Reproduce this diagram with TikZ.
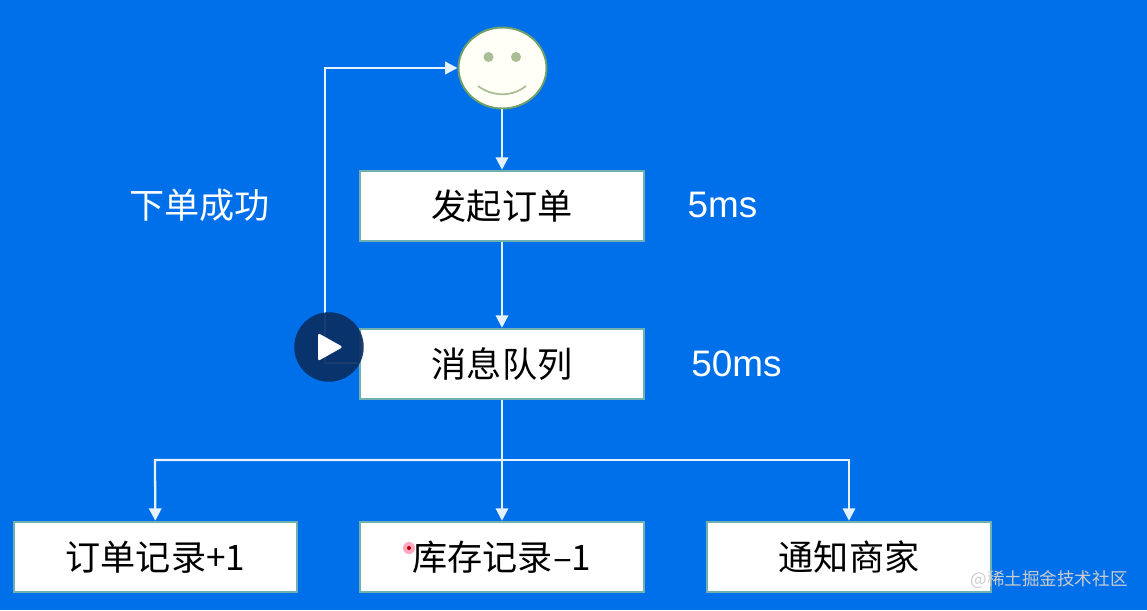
\documentclass[tikz,border=0pt]{standalone}
\usepackage{fontspec}
\setmainfont{Liberation Sans}
\newfontfamily\cjk{Noto Sans CJK SC}
\usetikzlibrary{arrows.meta,shapes.geometric}
\definecolor{slidebg}{HTML}{0070EA}
\definecolor{boxedge}{HTML}{6FB0B0}
\definecolor{faceedge}{HTML}{6FA06A}
\definecolor{facemark}{HTML}{A9BE94}
\definecolor{playbg}{HTML}{0A2F63}
\tikzset{
	taskbox/.style={draw=boxedge,line width=1.2pt,fill=white,minimum width=5.67cm,minimum height=1.41cm,inner sep=0pt,text=black,font=\cjk\fontsize{20}{24}\selectfont},
	flow/.style={draw=white!90!slidebg,line width=1.3pt},
	flowtip/.style={flow,-{Triangle[width=7pt,length=7pt]}},
	slidetext/.style={text=white,inner sep=0pt,font=\fontsize{21}{25}\selectfont}
}
\begin{document}
\begin{tikzpicture}[x=0.02cm,y=-0.02cm]
	\useasboundingbox (0,0) rectangle (1147,610);
	\fill[slidebg] (0,0) rectangle (1147,610);
	\coordinate (Turn) at (325,363);
	\coordinate (TurnTop) at (325,68);
	\coordinate (Bus) at (502,460);
	\coordinate (BusL) at (155,460);
	\coordinate (BusR) at (849,460);

	\node[ellipse,draw=faceedge,line width=1.1pt,fill=white!97!yellow,minimum width=1.76cm,minimum height=1.62cm,inner sep=0pt] (User) at (502.5,68) {};
	\fill[facemark] (488.5,57) circle (5);
	\fill[facemark] (516,57) circle (5);
	\draw[facemark,line width=1pt] (478,86) .. controls (493,97) and (512,97) .. (526,86);

	\node[taskbox] (Start) at (502,206) {发起订单};
	\node[taskbox] (Queue) at (502,364) {消息队列};
	\node[taskbox] (Record) at (155.5,557) {订单记录+1};
	\node[taskbox] (Stock) at (502,557) {库存记录–1};
	\node[taskbox] (Notify) at (849,557) {通知商家};

	\draw[flowtip] (Start.north |- User.south) -- (Start);
	\draw[flowtip] (Start) -- (Queue);
	\draw[flowtip] (Queue.west |- Turn) -- (Turn) -- (TurnTop) -- (User);
	\draw[flowtip] (Queue) -- (Stock);
	\draw[flowtip] (Bus) -- (BusL) -- (Record);
	\draw[flowtip] (Bus) -- (BusR) -- (Notify);

	\node[slidetext,font=\cjk\fontsize{20}{24}\selectfont] (Ok) at (199.5,205) {下单成功};
	\node[slidetext] (FiveMs) at (722.5,205) {5ms};
	\node[slidetext] (FiftyMs) at (736.5,364) {50ms};

	\node[circle,fill=playbg,fill opacity=.93,minimum size=1.39cm,inner sep=0pt] (Play) at (329,347) {};
	\fill[white,rounded corners=1pt] (318,333) -- (343,347) -- (318,361) -- cycle;
	\fill[red!70!magenta,opacity=.35] (409,548) circle (6);
	\fill[red!70!black] (409,548) circle (2);
	\node[text=white!80!black,inner sep=0pt,anchor=east,font=\cjk\fontsize{10}{12}\selectfont] (Mark) at (1128,580) {@稀土掘金技术社区};
\end{tikzpicture}
\end{document}
